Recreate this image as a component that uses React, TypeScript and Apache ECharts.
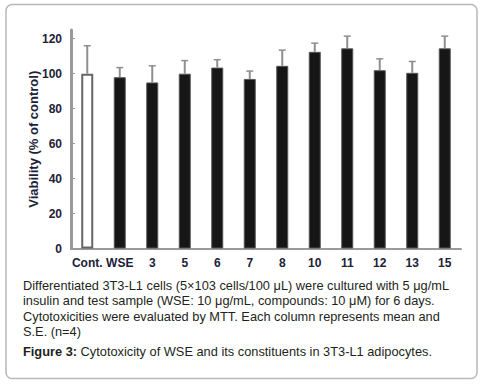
import React, { useEffect, useRef } from "react";
import * as echarts from "echarts";

const categories = ["Cont.", "WSE", "3", "5", "6", "7", "8", "10", "11", "12", "13", "15"];
const viability = [100, 98, 95, 100, 103.5, 97, 104.5, 112.5, 114.5, 102, 100.5, 114.5];
const errorTop = [116, 103.5, 104.5, 107.5, 108, 101.5, 113.5, 117.5, 121.5, 108.5, 107, 121.5];
const yTicks = [0, 20, 40, 60, 80, 100, 120];

const captionLines = [
  "Differentiated 3T3-L1 cells (5×103 cells/100 μL) were cultured with 5 μg/mL",
  "insulin and test sample (WSE: 10 μg/mL, compounds: 10 μM) for 6 days.",
  "Cytotoxicities were evaluated by MTT. Each column represents mean and",
  "S.E. (n=4)",
];
const figureLabel = "Figure 3:";
const figureTitle = " Cytotoxicity of WSE and its constituents in 3T3-L1 adipocytes.";

const FONT = "'Liberation Sans', Arial, sans-serif";
const LABEL_COLOR = "#1c2238";

export default function App() {
  const ref = useRef<HTMLDivElement>(null);
  useEffect(() => {
    if (!ref.current) return;
    const chart = echarts.init(ref.current, undefined, { renderer: "svg" });
    const barData = viability.map((v, i) =>
      i === 0
        ? { value: v, itemStyle: { color: "#ffffff", borderColor: "#666", borderWidth: 2 } }
        : { value: v }
    );
    const errData = viability.map((v, i) => [i, v, errorTop[i]]);
    const captionY = [285, 300.5, 316, 331.5];
    chart.setOption({
      animation: false,
      grid: { left: 71, right: 22, top: 30, bottom: 139.5 },
      xAxis: {
        type: "category",
        data: categories,
        axisLine: { lineStyle: { color: "#9a9a9a", width: 2 } },
        axisTick: { show: false },
        axisLabel: {
          color: LABEL_COLOR,
          fontFamily: FONT,
          fontWeight: "bold",
          fontSize: 12,
          margin: 8,
          interval: 0,
        },
      },
      yAxis: {
        type: "value",
        min: 0,
        max: 125,
        interval: 20,
        name: "Viability (% of control)",
        nameLocation: "middle",
        nameGap: 31,
        nameMoveOverlap: false,
        nameTextStyle: {
          color: LABEL_COLOR,
          fontFamily: FONT,
          fontWeight: "bold",
          fontSize: 13,
        },
        splitLine: { show: false },
        axisLine: { show: true, lineStyle: { color: "#9a9a9a", width: 3 } },
        axisTick: { show: true, inside: true, length: 4, lineStyle: { color: "#9a9a9a", width: 1 } },
        axisLabel: {
          color: LABEL_COLOR,
          fontFamily: FONT,
          fontWeight: "bold",
          fontSize: 12,
          margin: 9,
          showMaxLabel: false,
          formatter: (v: number) => (yTicks.includes(v) ? String(v) : ""),
        },
      },
      series: [
        {
          type: "bar",
          data: barData,
          barWidth: 12,
          itemStyle: { color: "#161616", borderColor: "#555", borderWidth: 1 },
          z: 2,
        },
        {
          type: "custom",
          data: errData,
          z: 3,
          renderItem: (params: any, api: any) => {
            const top = api.coord([api.value(0), api.value(2)]);
            const base = api.coord([api.value(0), api.value(1)]);
            return {
              type: "group",
              children: [
                {
                  type: "line",
                  shape: { x1: top[0], y1: top[1], x2: base[0], y2: base[1] },
                  style: { stroke: "#8f8f8f", lineWidth: 2 },
                },
                {
                  type: "line",
                  shape: { x1: top[0] - 3.5, y1: top[1], x2: top[0] + 3.5, y2: top[1] },
                  style: { stroke: "#8f8f8f", lineWidth: 1.5 },
                },
              ],
            };
          },
        },
      ],
      graphic: [
        {
          type: "rect",
          shape: { x: 6, y: 4.5, width: 471, height: 374, r: 6 },
          style: { fill: "none", stroke: "#b8b8b8", lineWidth: 1.5 },
          z: -10,
        },
        ...captionLines.map((line, i) => ({
          type: "text",
          x: 23,
          y: captionY[i],
          style: {
            text: line,
            font: `12.8px ${FONT}`,
            fill: "#231f20",
            verticalAlign: "middle",
          },
        })),
        {
          type: "text",
          x: 23,
          y: 351.5,
          style: {
            text: `{b|${figureLabel}}{n|${figureTitle}}`,
            verticalAlign: "middle",
            rich: {
              b: { font: `bold 12.8px ${FONT}`, fill: "#231f20" },
              n: { font: `12.8px ${FONT}`, fill: "#231f20" },
            },
          },
        },
      ],
    });
    return () => chart.dispose();
  }, []);
  return (
    <div
      ref={ref}
      style={{ position: "fixed", left: 0, top: 0, width: 483, height: 388, background: "#fff" }}
    />
  );
}
